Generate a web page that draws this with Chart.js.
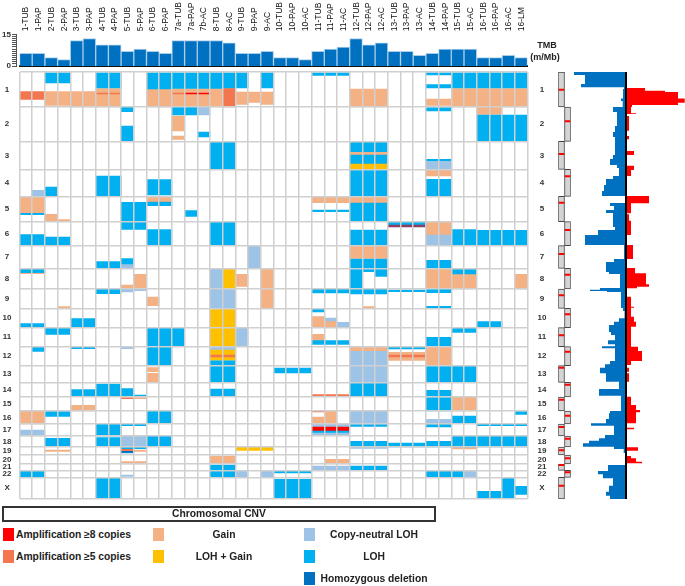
<!DOCTYPE html>
<html>
<head>
<meta charset="utf-8">
<title>Chromosomal CNV</title>
<script src="https://cdn.jsdelivr.net/npm/chart.js@4/dist/chart.umd.min.js"></script>
<style>
html, body { margin: 0; padding: 0; background: #fff; }
body { position: relative; width: 685px; height: 586px; overflow: hidden; font-family: "Liberation Sans", Arial, sans-serif; color: #222; }
canvas { position: absolute; }
.lbl { position: absolute; font-weight: bold; font-size: 10.3px; line-height: 14px; white-space: nowrap; }
.ctr { transform: translateX(-50%); }
.swatch { position: absolute; width: 11px; height: 13px; }
#cnvTitle { position: absolute; left: 2px; top: 506px; width: 430px; height: 12px; border: 2px solid #333; text-align: center; font-weight: bold; font-size: 10.3px; line-height: 12px; }
</style>
</head>
<body>
<canvas id="tmbAxis" width="18" height="68" style="left:0;top:0"></canvas>
<canvas id="tmb" width="560" height="68" style="left:0;top:0"></canvas>
<canvas id="heat" width="560" height="450" style="left:0;top:60px"></canvas>
<canvas id="ideogram" width="17" height="450" style="left:556px;top:60px"></canvas>
<canvas id="freq" width="120" height="450" style="left:565.7px;top:60px"></canvas>

<div class="lbl ctr" style="left:547px;top:38px;font-size:9px">TMB</div>
<div class="lbl ctr" style="left:545px;top:50px;font-size:9px">(m/Mb)</div>

<div id="cnvTitle">Chromosomal CNV</div>
<div class="swatch" style="left:3px;top:528px;background:#ff0000"></div>
<div class="lbl" style="left:16px;top:528px">Amplification ≥8 copies</div>
<div class="swatch" style="left:3px;top:550px;background:#f4764f"></div>
<div class="lbl" style="left:16px;top:550px">Amplification ≥5 copies</div>
<div class="swatch" style="left:153px;top:528px;background:#f4b183"></div>
<div class="lbl ctr" style="left:224px;top:528px">Gain</div>
<div class="swatch" style="left:153px;top:550px;background:#ffc000"></div>
<div class="lbl ctr" style="left:224px;top:550px">LOH + Gain</div>
<div class="swatch" style="left:304px;top:528px;background:#9dc3e6"></div>
<div class="lbl ctr" style="left:374px;top:528px">Copy-neutral LOH</div>
<div class="swatch" style="left:304px;top:550px;background:#00b0f0"></div>
<div class="lbl ctr" style="left:374px;top:550px">LOH</div>
<div class="swatch" style="left:304px;top:572px;background:#0070c0"></div>
<div class="lbl ctr" style="left:374px;top:572px">Homozygous deletion</div>

<script>
var sampleLabels = ["1-TUB","1-PAP","2-TUB","2-PAP","3-TUB","3-PAP","4-TUB","4-PAP","5-TUB","5-PAP",
    "6-TUB","6-PAP","7a-TUB","7a-PAP","7b-AC","8-TUB","8-AC","9-TUB","9-PAP","9-AC",
    "10-TUB","10-PAP","10-AC","11-TUB","11-PAP","11-AC","12-TUB","12-PAP","12-AC","13-TUB",
    "13-PAP","13-AC","14-TUB","14-PAP","15-TUB","15-AC","16-TUB","16-PAP","16-AC","16-LM"];
var tmbValues = [6,6,4,3,12,13,10,10,7,8,7,6,12,12,12,12,11,6,6,7,4,4,3,7,8,9,13,10,11,7,7,5,6,8,8,8,4,4,5,4];

var chromNames = ["1","2","3","4","5","6","7","8","9","10","11","12","13","14","15","16","17","18","19","20","21","22","X"];
// track position along the genome, top to bottom, chromosome edges
var chromBounds = [0,35,69.3,97.3,124.3,149.7,173.7,196.3,217,236.3,255.7,274.7,293.7,310.3,325,339,352,364,375,383,392,398.3,405.3,427];
var centromeres = [17.7,49.3,82,104.3,130.7,158,182,202.7,223.3,242.3,263.3,279.7,295.7,312.7,327.7,343.7,355,366.7,378.3,386.3,393,400.3,413.7];

// each segment: first sample index, last sample index, track start, track end
var amp8Segments = [[13,14,21,22],[23,25,355,358.3]];
var amp5Segments = [[0,1,19.5,27.5],[6,7,21,22],[12,12,21,22],[16,16,16.5,35],[15,16,283,285],[29,31,283,285],
    [23,25,322.6,324.2],[8,8,325.7,326.7],[23,23,339,340],[8,8,377.3,378.7]];
var homdelSegments = [[8,8,378.7,380.3]];
var lohAmpSegments = [[29,31,153,155]];
var gainSegments = [[2,3,19.5,33.5],[4,5,19.5,35],[6,7,16.5,35],[10,11,17,35],[12,15,16.5,35],[17,17,20,32.5],[18,18,20,30.5],[19,19,20,32.5],
    [26,28,17,35],[32,33,27,33.5],[34,39,16.5,35],[12,12,44,59],[12,12,64,67.5],[36,37,35,42.5],[26,28,79.7,83],[32,33,97.3,104],
    [0,1,124.3,141.3],[2,2,142.3,149.3],[3,3,147.7,148.7],[10,11,124.3,130],[23,25,124.3,130.7],[26,28,124.3,130.7],[32,33,150.3,163],
    [26,28,174,186.3],[0,1,200.7,201.7],[8,8,213,217],[9,9,202.3,217],[17,17,202.3,214.3],[19,19,196.3,236.3],[32,33,196.3,217],[34,35,202,217],[39,39,202.3,217],
    [10,10,225,233.7],[3,3,234.7,236],[27,27,234.7,235.7],[23,23,244.7,255.7],[24,24,249,255.7],[23,23,262.3,268.7],
    [26,28,274.7,279.3],[29,31,280.3,288.3],[32,33,274.7,293.7],[10,10,295.7,299.7],[10,10,301.3,310],[9,9,325.7,326.7],[4,5,333.3,339],[34,35,325.3,339],
    [0,1,339,352],[23,23,345,352],[24,24,339,352],[2,3,378,379.3],[9,9,378,379.3],[34,35,375,377],[8,9,389.7,392],[15,16,384,391.3],[24,25,387.3,392]];
var lohGainSegments = [[26,28,92,97.3],[16,16,196.3,217],[15,16,236.3,274.7],[15,16,278,288],[17,19,375.3,378.3]];
var cnlohSegments = [[14,14,35,43],[32,33,89.3,97.3],[1,1,118.3,124.3],[32,33,163,173.7],[8,8,192.7,196.3],[18,18,174,196.3],[15,15,196.3,217],
    [8,8,217,220],[9,9,217,218.7],[15,16,217,236.3],[24,24,246,249],[25,25,250.3,255.7],[17,17,255.7,274.7],[8,8,274.7,276.7],[15,16,274.7,278],
    [26,28,279.3,310.3],[26,28,339,352],[32,33,347.3,352],[0,1,358,364],[23,25,352,355],[23,25,361,363.7],[8,9,364,375],[26,28,375,376.3],
    [23,25,394,398.3],[8,8,403,404.3],[17,17,398.7,405.3],[19,19,398.7,405.3],[35,35,399,405.3]];
var lohSegments = [[2,3,0,11],[6,7,0,16],[10,11,0,17],[12,16,0,16.5],[17,17,0,16],[19,19,0,16],[23,25,0,3.5],[32,33,0,3],[32,33,12.5,16],[34,39,0,16],
    [8,8,35.3,39.7],[8,8,54,69],[12,13,35,43],[14,14,60,65],[32,33,35.7,39],[36,39,43,69],
    [15,16,69.3,97.3],[26,28,69.3,79.7],[26,28,83,92],[32,33,87.3,89.3],
    [6,7,104,124],[2,2,115,124],[10,11,107.7,123],[26,28,97.3,124.3],[32,33,107.3,124],
    [0,1,141.3,142.7],[8,9,130.3,157.3],[10,11,130,133.7],[13,13,138.7,144.3],[23,25,138,139.7],[26,28,131,149.7],
    [0,1,162.7,173.7],[2,3,165,173.7],[10,11,157.7,173.7],[15,16,149.7,173.7],[29,31,150.3,153],[26,28,158,173.7],[34,35,157.7,173.7],[36,39,158.3,173.7],
    [6,7,189.7,196.3],[8,8,186.7,192.7],[26,28,187,196.3],[32,33,188.3,196.3],
    [0,1,196.3,200.7],[26,26,196.3,217],[27,27,196.3,199.7],[28,28,196.3,204.3],[34,35,196.3,202],
    [6,7,217,221.7],[23,25,217,221],[26,28,217,222],[29,31,218,219.7],[32,33,217,220.7],[32,33,234.3,236],
    [0,1,251.7,255.3],[4,5,246.7,255.3],[23,23,236.7,240],[36,37,249.7,255.3],
    [2,3,255.7,262.3],[10,12,255.7,274.7],[23,25,268.7,272.3],[34,35,256,260.3],[32,33,265.3,274.7],
    [1,1,274.7,279.3],[4,5,274.7,276.7],[10,11,274.7,293.7],[15,16,288.7,293.7],[29,31,274.7,277],
    [15,16,293.7,310],[20,22,296,301],[32,35,294.3,309.7],
    [4,5,317.7,324.7],[6,7,312,324.7],[8,8,316.7,324.7],[9,9,323,324.7],[15,16,317,323.7],[26,28,310.7,324.7],[32,33,318.3,325],
    [32,33,325.7,339],[2,3,339.7,344.3],[10,11,339.3,351.7],[34,35,344,351.7],[39,39,339.7,342.3],
    [6,7,352,364],[8,9,352,353.7],[23,25,358.3,361],[26,28,352,354.3],[32,33,352,355],[36,39,352,353.7],
    [2,3,366.3,374.7],[6,7,365.7,374.7],[10,11,364,374.7],[26,28,369.3,375],[29,31,371,375],[32,33,369.3,375],[34,39,364,375],
    [8,9,375.3,376.7],[8,8,380.3,381],
    [15,16,393,398.3],[26,28,394,398.3],
    [0,1,398.7,405.3],[15,16,398.3,405.3],[20,22,398.7,401],[32,34,399,405.3],
    [6,7,405.3,427],[20,22,407.3,427],[36,37,419.3,427],[38,38,406,427],[39,39,414.3,422.3]];

// frequency panel steps: track start, share of samples from there on
var lossSteps = [[0,52],[3,41],[12,45],[15.3,2],[17,3],[26.5,5],[29,3.3],[35,13],[40,9],[54,11],[60,13],[65,11],[83,13],[87,16],[93,9],[96,7],[104,13],[107,20],[113,22],[119,24],[124,0],
    [131,16],[134,12],[138,20],[141,13],[155,11],[158,28],[163,41],[173,2],[187,12],[190,20],[200,17],[202,6],[216,26],[217.7,36],[219,19],[220,5],[236,3],[239,1.5],[246.3,7],[249.7,12],[253,17],[260,15],[263,11],[268.3,18],[272.3,11],[274.3,24],[276.3,11],[289,16],[292.3,21],[295.7,26],[301.3,20],[309.7,7],[317,27],[323.7,5],[339,16],[341.3,17],[347,20],[351.3,35],[353.7,12],[363,21],[366.3,27],[368.7,37],[371.3,43],[374.7,12],[377,2.3],[381,0.7],[393,18],[399,28],[402.3,23],[406.3,13],[413.7,17],[419.7,20],[423.7,16]];
var gainSteps = [[0,0],[16,19],[18.7,39],[20,52],[26.5,58.7],[30.7,52],[33,6],[35,5],[41.3,10],[42,0],[44,3],[58.7,0],[64,3],[67.3,0],[79,8],[83,0],[93.7,8],[98,5],[104,0],[124,23],[131.3,5],[141.3,0],[142.3,3],[148.7,5],[163,0],[173,7],[187,0],[196,9],[201.3,20],[212.3,23],[214.7,11],[216.3,0],[224.7,5],[234.7,8],[235.7,5],[244.7,8],[249.7,10],[254.7,5],[274.7,12],[279,16],[289,5],[293,0],[295.7,3],[299.7,0],[301.3,3],[309.7,0],[324.7,5],[333,10],[338,14],[340.3,10],[345.7,10],[351.3,0],[355.7,8],[357.3,0],[375.3,12],[378.7,0],[384,5],[386.3,10],[389.7,16],[391.3,0],[427,0]];

var gridColor = "#d0d0d0";
var labelFont = { family: "'Liberation Sans', Arial, sans-serif", size: 8, weight: "bold" };

function segmentBars(segments) {
    var bars = [];
    segments.forEach(function(seg) {
        for (var c = seg[0]; c <= seg[1]; c++) {
            bars.push({ x: sampleLabels[c], y: [seg[2], seg[3]] });
        }
    });
    return bars;
}

function cnvDataset(label, segments, color) {
    return {
        label: label,
        data: segmentBars(segments),
        backgroundColor: color,
        grouped: false,
        barPercentage: 1,
        categoryPercentage: 1,
        borderSkipped: false
    };
}

function stepPoints(steps, sign, end) {
    var points = [];
    steps.forEach(function(step, i) {
        var next = i + 1 < steps.length ? steps[i + 1][0] : end;
        points.push({ x: sign * step[1], y: step[0] });
        points.push({ x: sign * step[1], y: next });
    });
    return points;
}

// tick labels would otherwise push the chart area in from top and bottom
function fixedWidth(w) {
    return function(scale) {
        scale.width = w;
        scale.paddingTop = 0;
        scale.paddingBottom = 0;
    };
}
function fixedHeight(h) {
    return function(scale) { scale.height = h; };
}

var common = { responsive: false, animation: false, plugins: { legend: { display: false }, tooltip: { enabled: false } } };

//////////////////////////////////////////////
// TMB axis, sits a little left of the bars
new Chart(document.getElementById("tmbAxis"), {
    type: "bar",
    data: { labels: [""], datasets: [{ data: [0] }] },
    options: Object.assign({}, common, {
        layout: { padding: { top: 34.3, bottom: 2 } },
        scales: {
            x: { display: false },
            y: {
                min: 0, max: 15,
                afterFit: fixedWidth(16),
                border: { color: "#555" },
                grid: { display: true, drawOnChartArea: false, color: "#555", tickLength: 4 },
                ticks: {
                    stepSize: 1, padding: 1, autoSkip: false, color: "#333", font: labelFont,
                    callback: function(v) { return v == 0 || v == 15 ? String(v) : ""; }
                }
            }
        }
    })
});

new Chart(document.getElementById("tmb"), {
    type: "bar",
    data: {
        labels: sampleLabels,
        datasets: [{ data: tmbValues, backgroundColor: "#0070c0", borderColor: "#a8cdea", borderWidth: 1, barPercentage: 1, categoryPercentage: 1 }]
    },
    options: Object.assign({}, common, {
        layout: { padding: { left: 19.5, right: 32.5, bottom: 2 } },
        scales: {
            x: {
                position: "top",
                afterFit: fixedHeight(34.3),
                grid: { display: false, drawTicks: false },
                border: { display: false },
                ticks: { minRotation: 90, maxRotation: 90, autoSkip: false, padding: 3, labelOffset: 10.5, color: "#111", font: { family: labelFont.family, size: 8.5 } }
            },
            xBase: {
                type: "category", position: "bottom",
                afterFit: fixedHeight(0),
                grid: { display: false, drawTicks: false },
                border: { color: "#111", width: 2 },
                ticks: { display: false }
            },
            y: { display: false, min: 0, max: 15 }
        }
    })
});

//////////////////////////////////////////////
new Chart(document.getElementById("heat"), {
    type: "bar",
    data: {
        labels: sampleLabels,
        datasets: [
            cnvDataset("Amplification >=8 copies", amp8Segments, "#ff0000"),
            cnvDataset("Amplification >=5 copies", amp5Segments, "#f4764f"),
            cnvDataset("Homozygous deletion", homdelSegments, "#0070c0"),
            cnvDataset("LOH and amplification", lohAmpSegments, "#8a3f63"),
            cnvDataset("LOH + Gain", lohGainSegments, "#ffc000"),
            cnvDataset("Copy-neutral LOH", cnlohSegments, "#9dc3e6"),
            cnvDataset("LOH", lohSegments, "#00b0f0"),
            cnvDataset("Gain", gainSegments, "#f4b183")
        ]
    },
    options: Object.assign({}, common, {
        layout: { padding: { top: 12, bottom: 11 } },
        scales: {
            x: {
                offset: true,
                afterFit: fixedHeight(0),
                grid: { offset: true, color: gridColor, lineWidth: 1.5, drawTicks: false, z: 1 },
                border: { display: false },
                ticks: { display: false }
            },
            y: {
                min: 0, max: 427, reverse: true,
                afterFit: fixedWidth(0),
                afterBuildTicks: function(scale) {
                    scale.ticks = chromBounds.map(function(v) { return { value: v }; });
                },
                grid: { color: gridColor, lineWidth: 1.5, drawTicks: false, z: 1 },
                border: { display: false },
                ticks: { display: false }
            },
            yLeft: chromAxis("left", 19.5, 8),
            yRight: chromAxis("right", 32.5, 10)
        }
    })
});

function chromAxis(position, width, pad) {
    return {
        position: position,
        min: 0, max: 427, reverse: true,
        afterFit: fixedWidth(width),
        afterBuildTicks: function(scale) {
            scale.ticks = chromNames.map(function(name, i) {
                return { value: (chromBounds[i] + chromBounds[i + 1]) / 2 };
            });
        },
        grid: { display: false, drawTicks: false },
        border: { display: false },
        ticks: {
            autoSkip: false, crossAlign: "center", padding: pad, color: "#333", font: labelFont,
            callback: function(v, i) { return chromNames[i]; }
        }
    };
}

//////////////////////////////////////////////
var ideogramBars = [];
var centromereBars = [];
chromNames.forEach(function(name, i) {
    var side = i % 2 == 0 ? "odd" : "even";
    ideogramBars.push({ x: side, y: [chromBounds[i], chromBounds[i + 1]] });
    centromereBars.push({ x: side, y: [centromeres[i] - 1, centromeres[i] + 1] });
});

new Chart(document.getElementById("ideogram"), {
    type: "bar",
    data: {
        labels: ["odd", "even"],
        datasets: [
            { data: centromereBars, backgroundColor: "#ff0000", grouped: false, barPercentage: 0.9, categoryPercentage: 1 },
            { data: ideogramBars, backgroundColor: "#d4d4d4", borderColor: "#444", borderWidth: 1, borderSkipped: false, grouped: false, barPercentage: 1, categoryPercentage: 1 }
        ]
    },
    options: Object.assign({}, common, {
        layout: { padding: { left: 2.3, right: 2.3, top: 12, bottom: 11 } },
        scales: {
            x: { display: false },
            y: { display: false, min: 0, max: 427, reverse: true }
        }
    })
});

//////////////////////////////////////////////
new Chart(document.getElementById("freq"), {
    type: "line",
    data: {
        datasets: [
            { data: stepPoints(lossSteps, -1, 427), backgroundColor: "#0070c0", borderWidth: 0, pointRadius: 0, fill: "origin", tension: 0 },
            { data: stepPoints(gainSteps, 1, 427), backgroundColor: "#ff0000", borderWidth: 0, pointRadius: 0, fill: "origin", tension: 0 }
        ]
    },
    options: Object.assign({}, common, {
        indexAxis: "y",
        layout: { padding: { top: 12, bottom: 11 } },
        scales: {
            x: {
                type: "linear", min: -60, max: 60,
                afterFit: fixedHeight(0),
                afterBuildTicks: function(scale) { scale.ticks = [{ value: 0 }]; },
                grid: { color: "#000", lineWidth: 2, drawTicks: false, z: 1 },
                border: { display: false },
                ticks: { display: false }
            },
            y: { type: "linear", display: false, min: 0, max: 427, reverse: true }
        }
    })
});
</script>
</body>
</html>
